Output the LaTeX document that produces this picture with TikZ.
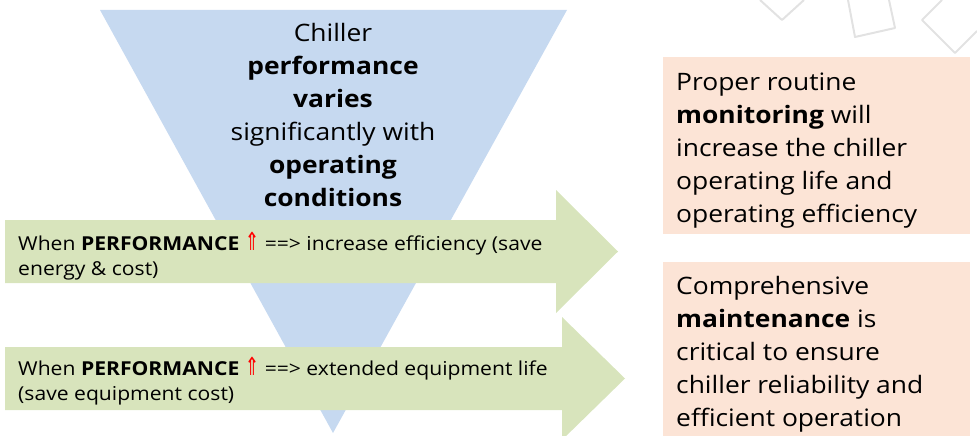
\documentclass[tikz,border=0pt]{standalone}
\usepackage{fontspec}
\setmainfont{Open Sans}[FakeStretch=1.1]
\newfontfamily\symbolfont{DejaVu Sans}[FakeStretch=0.9]
\usetikzlibrary{positioning}
\definecolor{funnelblue}{RGB}{198,217,240}
\definecolor{bargreen}{RGB}{216,228,188}
\definecolor{notepeach}{RGB}{252,228,214}
\definecolor{decogrey}{RGB}{226,226,226}
\newcommand{\perfup}{\textbf{PERFORMANCE} {\symbolfont\color{red}\scalebox{1}[1.3]{⇑}}}
\tikzset{
	funneltext/.style={align=center,inner sep=0pt,font=\fontsize{24}{33}\selectfont},
	bartext/.style={anchor=north west,align=left,inner sep=0pt,font=\fontsize{19.2}{25}\selectfont},
	notebox/.style={anchor=north west,fill=notepeach,inner sep=0pt,minimum width=307pt},
	notetext/.style={anchor=north west,align=left,inner sep=0pt,font=\fontsize{24}{33}\selectfont},
}
\begin{document}
\begin{tikzpicture}[x=1pt,y=-1pt]
	\useasboundingbox (0,0) rectangle (977,436);
	\clip (0,0) rectangle (977,436);
	\draw [decogrey, line width=2pt, line join=round] (760,0) -- (782,20) -- (804,0);
	\draw [decogrey, line width=2pt, line join=round] (848,0) -- (855,37) -- (895,28) -- (889,0);
	\draw [decogrey, line width=2pt, line join=round] (942,0) -- (922,20) -- (955,53) -- (977,31);
	\fill [funnelblue] (100,10) coordinate (fl) -- (567,10) coordinate (fr) -- (333,433) coordinate (fb) -- cycle;
	\node [funneltext] (funnel) at (333,115) {Chiller\\\textbf{performance}\\\textbf{varies}\\significantly with\\\textbf{operating}\\\textbf{conditions}};
	\fill [bargreen] (5,220) -- ++(551,0) -- ++(0,-30) -- ++(62,61.5) coordinate (tipa) -- ++(-62,61.5) -- ++(0,-30) -- ++(-551,0) -- cycle;
	\fill [bargreen] (5,347) -- ++(557,0) -- ++(0,-30) -- ++(63,61.5) coordinate (tipb) -- ++(-63,61.5) -- ++(0,-30) -- ++(-557,0) -- cycle;
	\node [bartext] (efficiency) at (18,232) {When \perfup{} ==> increase efficiency (save\\energy \& cost)};
	\node [bartext] (lifetime) at (18,357) {When \perfup{} ==> extended equipment life\\(save equipment cost)};
	\node [notebox, minimum height=177pt] (monitorbox) at (663,57) {};
	\node [notetext] (monitor) at ([xshift=13pt,yshift=-16pt]monitorbox.north west) {Proper routine\\\textbf{monitoring} will\\increase the chiller\\operating life and\\operating efficiency};
	\node [notebox, minimum height=174pt] (maintbox) at (663,262) {};
	\node [notetext] (maint) at ([xshift=13pt,yshift=-14pt]maintbox.north west) {Comprehensive\\\textbf{maintenance} is\\critical to ensure\\chiller reliability and\\efficient operation};
\end{tikzpicture}
\end{document}
